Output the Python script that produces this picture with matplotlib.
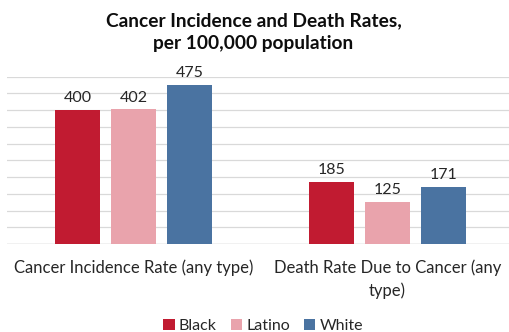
import matplotlib
matplotlib.use("Agg")
import matplotlib.pyplot as plt
import numpy as np

plt.rcParams['font.family'] = ['Lato', 'DejaVu Sans']

categories = ["Cancer Incidence Rate (any type)", "Death Rate Due to Cancer (any\ntype)"]
groups = ["Black", "Latino", "White"]
black = [400, 185]
latino = [402, 125]
white = [475, 171]
colors = ["#C11B31", "#E9A3AC", "#4A73A1"]

fig = plt.figure(figsize=(5.10, 3.32), dpi=100)
ax = fig.add_axes([7/510, 88/332, 503/510, (244-76.5)/332])

x = np.arange(len(categories))
width = 0.176
step = 0.221
series = [black, latino, white]
for i, (vals, name, col) in enumerate(zip(series, groups, colors)):
    bars = ax.bar(x + (i - 1) * step, vals, width, color=col, label=name, zorder=3)
    for b, v in zip(bars, vals):
        ax.text(b.get_x() + b.get_width() / 2, v + 14, str(v), ha='center', va='bottom',
                fontsize=11.5, color='#262626')

ax.set_xlim(-0.5, -0.5 + 503/253.5)
ax.set_ylim(0, 500)
ax.set_yticks(np.arange(0, 501, 50))
ax.yaxis.grid(True, color='#D9D9D9', linewidth=0.9, zorder=0)
ax.set_yticklabels([])
ax.tick_params(axis='both', length=0)
for s in ax.spines.values():
    s.set_visible(False)
ax.axhline(0, color='#D0D0D0', linewidth=1.0, zorder=2)
ax.set_xticks(x)
ax.set_xticklabels(categories, fontsize=12, color='#262626', linespacing=1.45)
ax.tick_params(axis='x', pad=11)

fig.text(0.497, 0.962, "Cancer Incidence and Death Rates,\nper 100,000 population",
         ha='center', va='top', fontsize=13.8, fontweight='bold', color='#0D0D0D',
         linespacing=1.35)

fig.legend(loc='lower center', bbox_to_anchor=(0.516, -0.037), ncol=3, frameon=False,
           fontsize=11.5, handlelength=0.7, handleheight=0.7, handletextpad=0.25,
           columnspacing=0.9, labelcolor='#262626', borderpad=0.2)

fig.savefig("out.png", dpi=100)
